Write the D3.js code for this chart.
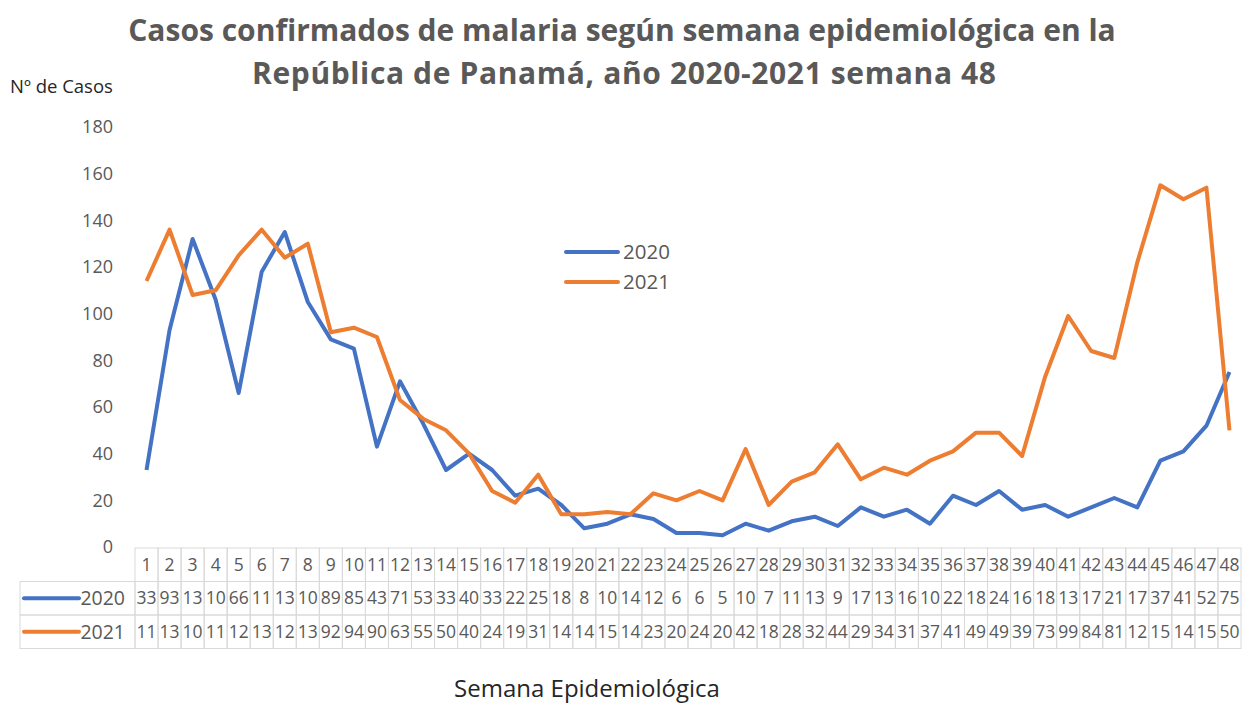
<!DOCTYPE html>
<html>
<head>
<meta charset="utf-8">
<script src="https://cdn.jsdelivr.net/npm/d3@7"></script>
<style>
  body { margin: 0; background: #fff; }
  svg { font-family: "Open Sans", "Liberation Sans", sans-serif; }
</style>
</head>
<body>
<div class="chart"></div>
<script>
// data
const weeks = d3.range(1, 49);
const years = ["2020", "2021"];
const cases2020 = [33, 93, 132, 106, 66, 118, 135, 105, 89, 85, 43, 71, 53, 33, 40, 33, 22, 25, 18, 8,
  10, 14, 12, 6, 6, 5, 10, 7, 11, 13, 9, 17, 13, 16, 10, 22, 18, 24, 16, 18,
  13, 17, 21, 17, 37, 41, 52, 75];
const cases2021 = [114, 136, 108, 110, 125, 136, 124, 130, 92, 94, 90, 63, 55, 50, 40, 24, 19, 31, 14, 14,
  15, 14, 23, 20, 24, 20, 42, 18, 28, 32, 44, 29, 34, 31, 37, 41, 49, 49, 39, 73,
  99, 84, 81, 122, 155, 149, 154, 50];
const yTicks = [0, 20, 40, 60, 80, 100, 120, 140, 160, 180];
const colors = ["#4472C4", "#ED7D31"];
const series = [cases2020, cases2021];

const W = 1256, H = 704;
const margin = { left: 135, right: 15, top: 127, bottom: 157 };
const plotW = W - margin.left - margin.right;
const plotH = H - margin.top - margin.bottom;

const svg = d3.select('.chart').append('svg')
  .attr('width', W).attr('height', H);

// title
const title = svg.append('text')
  .attr('text-anchor', 'middle')
  .style('font-weight', 'bold')
  .style('font-size', '30px')
  .attr('fill', '#595959');
title.append('tspan').attr('x', 622).attr('y', 41)
  .text('Casos confirmados de malaria según semana epidemiológica en la');
title.append('tspan').attr('x', 624).attr('y', 84)
  .attr('textLength', 744)
  .text('República de Panamá, año  2020-2021 semana 48');

svg.append('text')
  .attr('x', 10).attr('y', 93)
  .style('font-size', '18.5px')
  .attr('fill', '#262626')
  .text('Nº de Casos');

// scales
const x = d3.scaleBand().domain(weeks).range([0, plotW]);
const y = d3.scaleLinear().domain([0, 180]).range([plotH, 0]);

const g = svg.append('g').attr('transform', `translate(${margin.left},${margin.top})`);

// y axis
const yAxis = d3.axisLeft(y).tickValues(yTicks).tickSize(0).tickPadding(22);
g.append('g').call(yAxis)
  .call(s => s.select('.domain').remove())
  .call(s => s.selectAll('text')
    .style('font-size', '18px')
    .style('font-family', '"Open Sans", sans-serif')
    .attr('fill', '#595959'));

// lines
const line = d3.line()
  .x((d, i) => x(weeks[i]) + x.bandwidth() / 2)
  .y(d => y(d));

series.forEach((s, k) => {
  g.append('path')
    .datum(s)
    .attr('fill', 'none')
    .attr('stroke', colors[k])
    .attr('stroke-width', 4)
    .attr('stroke-linejoin', 'round')
    .attr('d', line);
});

// legend
const legend = svg.append('g').attr('transform', 'translate(566,252)');
years.forEach((yr, k) => {
  const lg = legend.append('g').attr('transform', `translate(0,${k * 30})`);
  lg.append('line').attr('x1', 0).attr('x2', 52).attr('y1', 0).attr('y2', 0)
    .attr('stroke', colors[k]).attr('stroke-width', 4).attr('stroke-linecap', 'round');
  lg.append('text').attr('x', 57).attr('y', 7)
    .style('font-size', '20.5px').attr('fill', '#595959').text(yr);
});

// data table
const rowH = 33.5;
const tableTop = plotH + 1;
const table = g.append('g').attr('transform', `translate(0,${tableTop})`);
const border = '#d9d9d9';
const cellFont = '17.5px';

// header row (week numbers)
weeks.forEach(w => {
  table.append('rect')
    .attr('x', x(w)).attr('y', 0)
    .attr('width', x.bandwidth()).attr('height', rowH)
    .attr('fill', 'none').attr('stroke', border);
  table.append('text')
    .attr('x', x(w) + x.bandwidth() / 2).attr('y', rowH / 2 + 6)
    .attr('text-anchor', 'middle')
    .style('font-size', cellFont).attr('fill', '#595959')
    .text(w);
});

series.forEach((s, k) => {
  const ry = rowH * (k + 1);
  // key cell
  table.append('rect')
    .attr('x', -115).attr('y', ry)
    .attr('width', 115).attr('height', rowH)
    .attr('fill', 'none').attr('stroke', border);
  table.append('line')
    .attr('x1', -111).attr('x2', -56).attr('y1', ry + rowH / 2).attr('y2', ry + rowH / 2)
    .attr('stroke', colors[k]).attr('stroke-width', 4).attr('stroke-linecap', 'round');
  table.append('text')
    .attr('x', -10).attr('y', ry + rowH / 2 + 7)
    .attr('text-anchor', 'end')
    .style('font-size', '19.5px').attr('fill', '#595959')
    .text(years[k]);
  s.forEach((v, i) => {
    const w = weeks[i];
    table.append('rect')
      .attr('x', x(w)).attr('y', ry)
      .attr('width', x.bandwidth()).attr('height', rowH)
      .attr('fill', 'none').attr('stroke', border);
    // cell too narrow: only the first two digits show
    table.append('text')
      .attr('x', x(w) + x.bandwidth() / 2).attr('y', ry + rowH / 2 + 6)
      .attr('text-anchor', 'middle')
      .style('font-size', cellFont).attr('fill', '#595959')
      .text(String(v).slice(0, 2));
  });
});

svg.append('text')
  .attr('x', 587).attr('y', 697)
  .attr('text-anchor', 'middle')
  .style('font-size', '24px')
  .attr('fill', '#262626')
  .text('Semana Epidemiológica');
</script>
</body>
</html>
